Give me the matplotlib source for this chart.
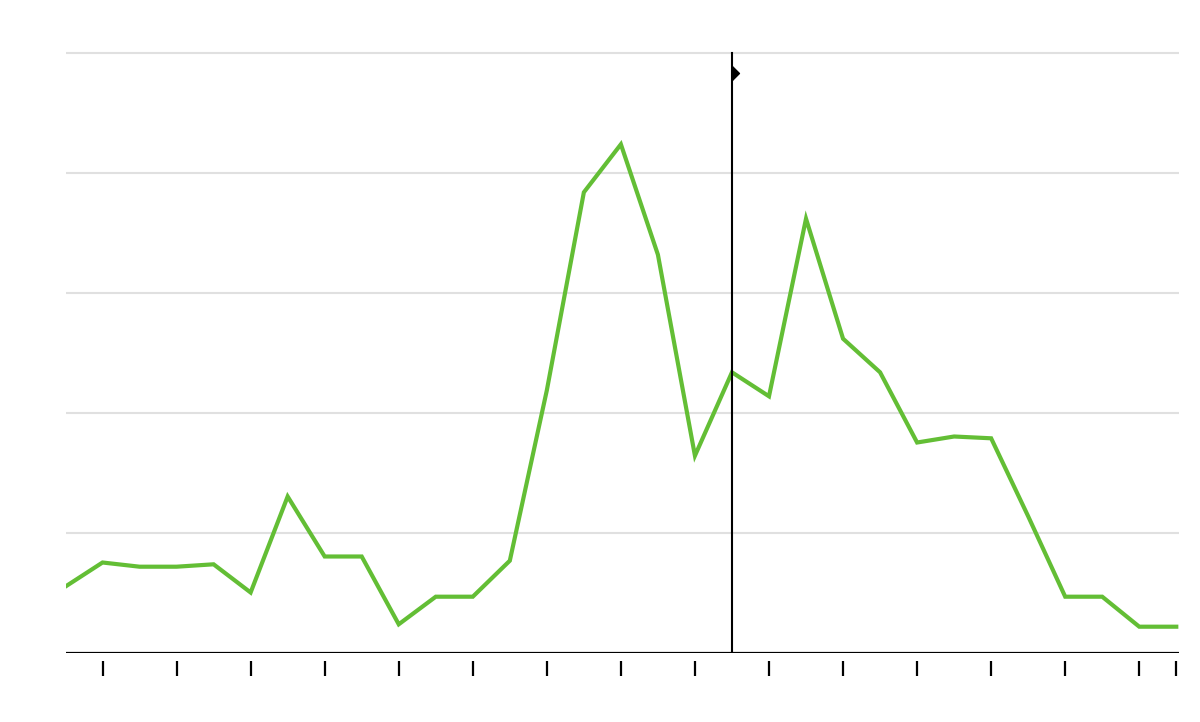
import matplotlib
matplotlib.use("Agg")
import matplotlib.pyplot as plt

# daily values (gridlines every 20)
days = list(range(31))
values = [11.0, 15.0, 14.3, 14.3, 14.7, 10.0, 26.0, 16.0, 16.0, 4.7,
          9.3, 9.3, 15.3, 43.7, 76.7, 84.7, 66.3, 32.8, 46.7, 42.7,
          72.3, 52.3, 46.7, 35.0, 36.0, 35.7, 22.7, 9.3, 9.3, 4.3, 4.3]
tick_days = list(range(1, 30, 2)) + [30]
marker_day = 18
marker_level = 96.6

fig = plt.figure(figsize=(12, 7.22), dpi=100)
ax = fig.add_axes([65.5 / 1200, 69.5 / 722, 1113 / 1200, 602.4 / 722])

ax.set_xlim(0, 30.06)
ax.set_ylim(0, 100.4)
ax.set_yticks([20, 40, 60, 80, 100])
ax.yaxis.grid(True, color='#e0e0e0', linewidth=1.5)
ax.set_axisbelow(True)
ax.tick_params(axis='y', length=0, labelleft=False)

ax.set_xticks(tick_days)
ax.tick_params(axis='x', direction='out', length=11, width=1.6,
               color='black', labelbottom=False)
for side in ['top', 'right', 'left']:
    ax.spines[side].set_visible(False)
ax.spines['bottom'].set_position(('outward', 6))
ax.spines['bottom'].set_visible(False)

ax.axhline(0, color='black', linewidth=1.6, zorder=3)

ax.plot(days, values, color='#63be35', linewidth=3, zorder=4,
        solid_joinstyle='miter')

ax.plot([marker_day, marker_day], [0, 100], color='black', linewidth=1.5,
        zorder=5)
ax.plot([marker_day], [marker_level], linestyle='none', color='black',
        marker=[(0, -1), (1, 0), (0, 1), (0, -1)], markersize=10, zorder=6)

fig.savefig('out.png', dpi=100)
